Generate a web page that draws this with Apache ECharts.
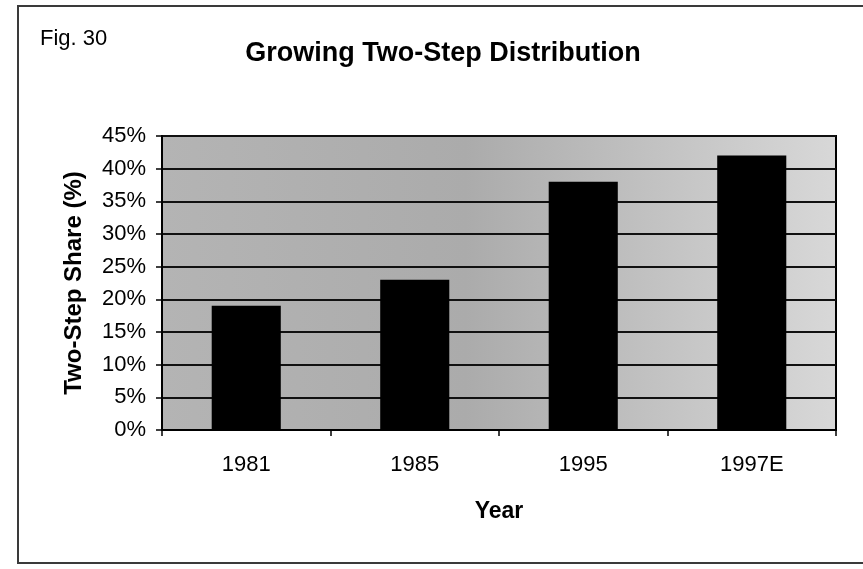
<!DOCTYPE html>
<html>
<head>
<meta charset="utf-8">
<script src="https://cdn.jsdelivr.net/npm/echarts@6/dist/echarts.min.js"></script>
<style>
  html, body { margin: 0; padding: 0; background: #ffffff; }
  #chart { width: 863px; height: 569px; }
</style>
</head>
<body>
<div id="chart"></div>
<script>
// Two-step distribution share by year
const years = ['1981', '1985', '1995', '1997E'];
const twoStepShare = [19, 23, 38, 42];
const yTicks = { min: 0, max: 45, step: 5 };

const chart = echarts.init(document.getElementById('chart'), null, { renderer: 'canvas' });
const FONT = '"Liberation Sans", Arial, Helvetica, sans-serif';

chart.setOption({
  backgroundColor: '#ffffff',
  animation: false,
  textStyle: { fontFamily: FONT, color: '#000' },
  title: [
    {
      text: 'Growing Two-Step Distribution',
      left: 438,
      top: 35,
      textAlign: 'center',
      textStyle: { fontFamily: FONT, fontSize: 27, fontWeight: 'bold', color: '#000' }
    },
    {
      text: 'Fig. 30',
      left: 35,
      top: 23,
      textStyle: { fontFamily: FONT, fontSize: 22, fontWeight: 'normal', color: '#000' }
    }
  ],
  graphic: [
    {
      type: 'rect',
      silent: true,
      z: -1,
      shape: { x: 18, y: 6, width: 900, height: 557 },
      style: { fill: 'none', stroke: '#3a3a3a', lineWidth: 2 }
    }
  ],
  grid: {
    left: 162,
    right: 27,
    top: 136,
    bottom: 139,
    show: true,
    borderColor: '#000',
    borderWidth: 2,
    backgroundColor: new echarts.graphic.LinearGradient(0, 0, 1, 0, [
      { offset: 0, color: '#b4b4b4' },
      { offset: 0.45, color: '#ababab' },
      { offset: 1, color: '#d8d8d8' }
    ])
  },
  xAxis: {
    type: 'category',
    data: years,
    name: 'Year',
    nameLocation: 'middle',
    nameGap: 70,
    nameTextStyle: { fontFamily: FONT, fontSize: 23, fontWeight: 'bold', color: '#000' },
    axisLine: { show: true, lineStyle: { color: '#000', width: 2 } },
    axisTick: { show: true, alignWithLabel: false, length: 6, lineStyle: { color: '#000', width: 1.5 } },
    axisLabel: { fontFamily: FONT, fontSize: 22, color: '#000', margin: 24 },
    splitLine: { show: false }
  },
  yAxis: {
    type: 'value',
    min: yTicks.min,
    max: yTicks.max,
    interval: yTicks.step,
    name: 'Two-Step Share (%)',
    nameLocation: 'middle',
    nameGap: 76,
    nameTextStyle: { fontFamily: FONT, fontSize: 24, fontWeight: 'bold', color: '#000' },
    axisLine: { show: true, lineStyle: { color: '#000', width: 2 } },
    axisTick: { show: true, length: 6, lineStyle: { color: '#000', width: 1.5 } },
    axisLabel: { fontFamily: FONT, fontSize: 22, color: '#000', margin: 16, formatter: '{value}%' },
    splitLine: { show: true, lineStyle: { color: '#111', width: 2 } }
  },
  series: [
    {
      type: 'bar',
      data: twoStepShare,
      barWidth: '41%',
      itemStyle: { color: '#000' },
      z: 3
    }
  ]
});
</script>
</body>
</html>
